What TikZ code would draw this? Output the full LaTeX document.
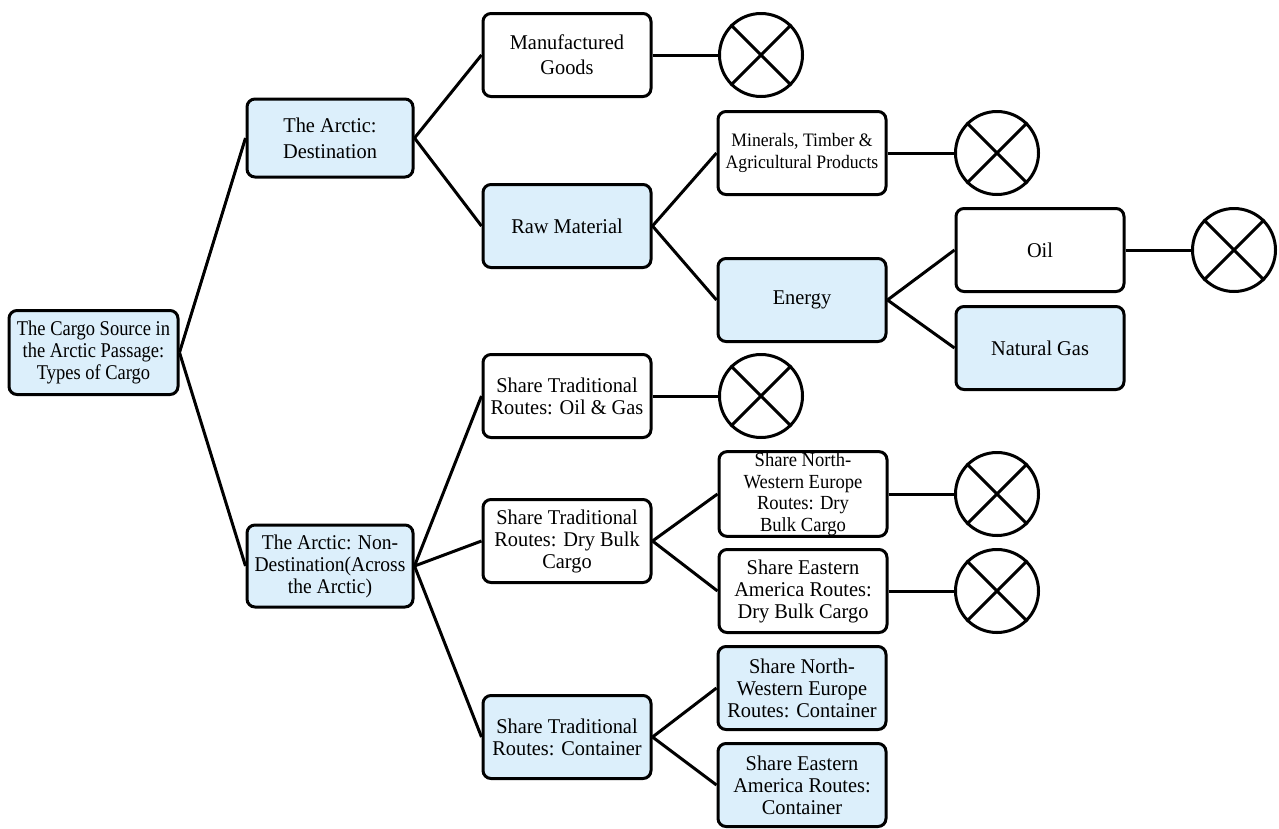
\documentclass[tikz,border=0pt]{standalone}
\usepackage{fontspec}
\setmainfont[FakeStretch=0.97]{Liberation Serif}
\newfontfamily\narrowA[FakeStretch=0.88]{Liberation Serif}
\newfontfamily\narrowB[FakeStretch=0.93]{Liberation Serif}
\definecolor{boxblue}{HTML}{DCEFFB}
\begin{document}
\begin{tikzpicture}[x=1pt,y=-1pt,
  box/.style={draw=black, line width=3pt, rounded corners=8pt, fill=white,
    minimum width=168pt, minimum height=83pt, align=center, inner sep=1pt,
    font=\fontsize{21}{22}\selectfont},
  bbox/.style={box, fill=boxblue},
  xcirc/.style={draw=black, line width=3pt, circle, minimum size=83pt, inner sep=0pt},
  conn/.style={line width=3pt}]
\useasboundingbox (0,0) rectangle (1279,828);

\node[bbox, minimum width=169pt, minimum height=84pt, font=\narrowA\fontsize{21}{22}\selectfont] (root) at (93.5,352.5) {The Cargo Source in\\the Arctic Passage:\\Types of Cargo};
\node[bbox, minimum width=166pt, minimum height=78pt, font=\fontsize{21}{26}\selectfont] (dest) at (330,138) {The Arctic:\\Destination};
\node[bbox, minimum width=166pt, minimum height=82pt, font=\narrowB\fontsize{21}{22}\selectfont] (nond) at (330,566) {The Arctic: Non-\\Destination(Across\\the Arctic)};

\node[box, font=\fontsize{21}{25}\selectfont] (manu) at (567,55) {Manufactured\\Goods};
\node[bbox] (raw) at (567,226) {Raw Material};
\node[box, font=\narrowB\fontsize{19}{22}\selectfont] (mine) at (802,153) {Minerals, Timber \&\\Agricultural Products};
\node[bbox] (ener) at (802,300) {Energy};
\node[box] (oil) at (1040,250) {Oil};
\node[bbox] (gas) at (1040,348) {Natural Gas};

\node[box] (toil) at (567,396) {Share Traditional\\Routes: Oil \& Gas};
\node[box] (tdry) at (567,541) {Share Traditional\\Routes: Dry Bulk\\Cargo};
\node[box, font=\narrowB\fontsize{20}{21.5}\selectfont] (nwdry) at (803,494) {Share North-\\Western Europe\\Routes: Dry\\Bulk Cargo};
\node[box] (eadry) at (803,591) {Share Eastern\\America Routes:\\Dry Bulk Cargo};
\node[bbox] (tcon) at (567,737) {Share Traditional\\Routes: Container};
\node[bbox] (nwcon) at (802,688) {Share North-\\Western Europe\\Routes: Container};
\node[bbox] (eacon) at (802,785) {Share Eastern\\America Routes:\\Container};

\node[xcirc] (x1) at (761,55) {};
\node[xcirc] (x2) at (997,153) {};
\node[xcirc] (x3) at (1234,250) {};
\node[xcirc] (x4) at (761,396) {};
\node[xcirc] (x5) at (997,494) {};
\node[xcirc] (x6) at (997,591) {};
\foreach \c in {x1,x2,x3,x4,x5,x6}{
  \draw[line width=3pt] (\c.45) -- (\c.225);
  \draw[line width=3pt] (\c.135) -- (\c.315);
}

\draw[conn] (root.east) -- (dest.west);
\draw[conn] (root.east) -- (nond.west);
\draw[conn] (dest.east) -- (manu.west);
\draw[conn] (dest.east) -- (raw.west);
\draw[conn] (raw.east) -- (mine.west);
\draw[conn] (raw.east) -- (ener.west);
\draw[conn] (ener.east) -- (oil.west);
\draw[conn] (ener.east) -- (gas.west);
\draw[conn] (nond.east) -- (toil.west);
\draw[conn] (nond.east) -- (tdry.west);
\draw[conn] (nond.east) -- (tcon.west);
\draw[conn] (tdry.east) -- (nwdry.west);
\draw[conn] (tdry.east) -- (eadry.west);
\draw[conn] (tcon.east) -- (nwcon.west);
\draw[conn] (tcon.east) -- (eacon.west);

\draw[conn] (manu.east) -- (x1.west);
\draw[conn] (mine.east) -- (x2.west);
\draw[conn] (oil.east) -- (x3.west);
\draw[conn] (toil.east) -- (x4.west);
\draw[conn] (nwdry.east) -- (x5.west);
\draw[conn] (eadry.east) -- (x6.west);
\end{tikzpicture}
\end{document}
